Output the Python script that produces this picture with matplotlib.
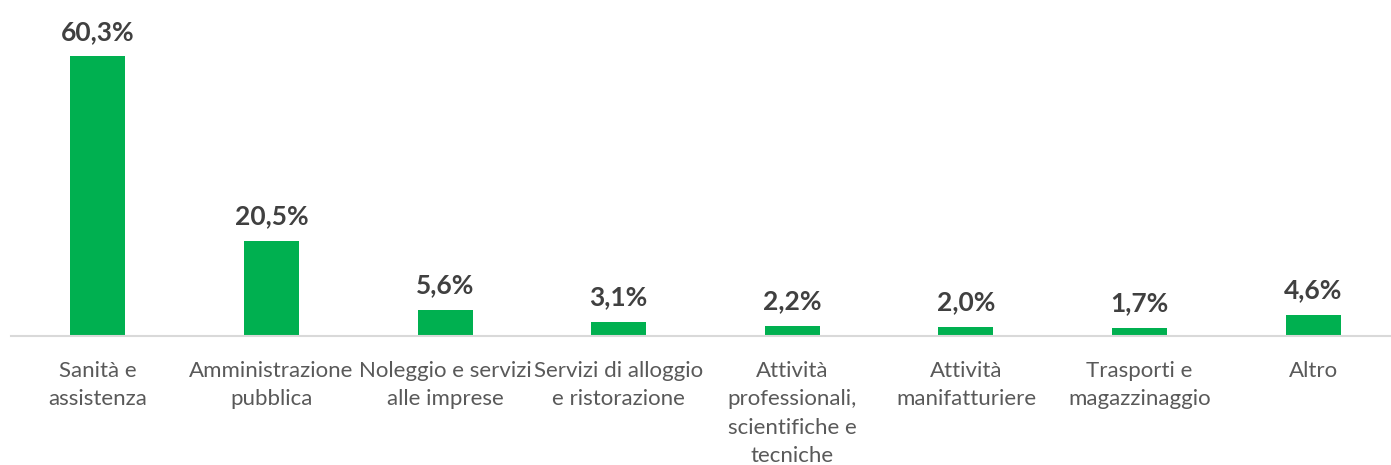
import matplotlib.pyplot as plt

categories = [
    "Sanità e\nassistenza",
    "Amministrazione\npubblica",
    "Noleggio e servizi\nalle imprese",
    "Servizi di alloggio\ne ristorazione",
    "Attività\nprofessionali,\nscientifiche e\ntecniche",
    "Attività\nmanifatturiere",
    "Trasporti e\nmagazzinaggio",
    "Altro",
]
values = [60.3, 20.5, 5.6, 3.1, 2.2, 2.0, 1.7, 4.6]
value_labels = ["60,3%", "20,5%", "5,6%", "3,1%", "2,2%", "2,0%", "1,7%", "4,6%"]

W, H = 1391, 465
fig = plt.figure(figsize=(W / 100, H / 100), dpi=100)
# axes from x=11px to 1400px, baseline at y=336px
ax = fig.add_axes([11 / W, (H - 336) / H, 1389 / W, 336 / H])

x = range(len(values))
ax.bar(x, values, width=0.317, color="#00B050", zorder=2)
ax.set_xlim(-0.5, len(values) - 0.5)
ax.set_ylim(0, 72.4)

for xi, v, lab in zip(x, values, value_labels):
    ax.annotate(lab, (xi, v), xytext=(0, 9), textcoords="offset points",
                ha="center", va="bottom", fontsize=19, fontweight="bold",
                color="#404040", family="Lato")

for s in ["top", "right", "left"]:
    ax.spines[s].set_visible(False)
ax.spines["bottom"].set_color("#D9D9D9")
ax.spines["bottom"].set_linewidth(1.5)
ax.set_yticks([])
ax.set_xticks(list(x))
ax.set_xticklabels(categories, fontsize=16, color="#595959", family="Lato",
                   linespacing=1.52)
ax.tick_params(axis="x", length=0, pad=18)

fig.savefig("out.png", dpi=100)
